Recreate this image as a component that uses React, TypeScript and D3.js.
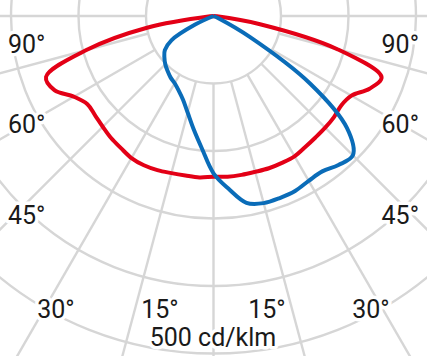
import React from 'react'
import * as d3 from 'd3'

// gamma angles (deg from nadir) and intensities in cd/klm
const angles = [0, 5, 10, 15, 20, 25, 30, 35, 40, 45, 50, 55, 60, 65, 70, 75, 80, 85, 90]
const redLeft = [238, 240, 240, 241, 243, 244, 243, 239, 236, 232, 229, 228, 239, 260, 264, 195, 100, 5, 0]
const redRight = [238, 239, 239, 239, 240, 240, 240, 237, 235, 234, 233, 231, 236, 255, 265, 190, 70, 5, 0]
const blueLeft = [233, 197, 170, 148, 132, 122, 115, 111, 106, 101, 95, 88, 72, 30, 0, 0, 0, 0, 0]
const blueRight = [233, 257, 281, 287, 287, 286, 282, 281, 288, 292, 258, 175, 62, 8, 0, 0, 0, 0, 0]

const rings = [100, 200, 300, 400, 500, 600]
const spokes = d3.range(0, 360, 15)
const sideLabels = ['90°', '60°', '45°']
const bottomLabels = ['30°', '15°', '15°', '30°']
const unitLabel = '500 cd/klm'

const W = 427
const H = 356
const cx = 213.5
const cy = 16
const rad = Math.PI / 180

const r = d3.scaleLinear().domain([0, 100]).range([0, 67.5])

type P = [number, number]

// nadir points down: left side angle = pi + gamma, right side = pi - gamma
const toPoints = (left: number[], right: number[]): P[] => [
    ...angles.map((a, i) => [Math.PI + a * rad, r(left[i])] as P).reverse(),
    ...angles.slice(1).map((a, i) => [Math.PI - a * rad, r(right[i + 1])] as P),
]

const curve = d3
    .lineRadial<P>()
    .angle(d => d[0])
    .radius(d => d[1])
    .curve(d3.curveCatmullRom.alpha(0.5))

const sideY = [53, 133, 224]
const bottomX = [56, 160, 267, 371]

const labelStyle = {
    fontFamily: 'Roboto, sans-serif',
    fontSize: 25,
    fill: '#1a1a1a',
    stroke: '#fff',
    strokeWidth: 7,
    paintOrder: 'stroke',
    strokeLinejoin: 'round',
} as React.CSSProperties

export default function App() {
    const rMin = r(rings[0])
    return (
        <svg
            width={W}
            height={H}
            style={{ position: 'absolute', left: 0, top: 0, background: '#fff' }}
        >
            <g transform={`translate(${cx},${cy})`} fill='none' stroke='#d6d6d6' strokeWidth={2.4}>
                {rings.map(v => (
                    <circle key={v} r={r(v)} />
                ))}
                {spokes.map(a => (
                    <line
                        key={a}
                        x1={rMin * Math.sin(a * rad)}
                        y1={rMin * Math.cos(a * rad)}
                        x2={r(700) * Math.sin(a * rad)}
                        y2={r(700) * Math.cos(a * rad)}
                    />
                ))}
            </g>
            {sideLabels.map((t, i) => (
                <g key={t}>
                    <text x={8} y={sideY[i]} style={labelStyle}>{t}</text>
                    <text x={419} y={sideY[i]} textAnchor='end' style={labelStyle}>{t}</text>
                </g>
            ))}
            {bottomLabels.map((t, i) => (
                <text key={i} x={bottomX[i]} y={318} textAnchor='middle' style={labelStyle}>
                    {t}
                </text>
            ))}
            <text x={213} y={346} textAnchor='middle' style={labelStyle}>{unitLabel}</text>
            <g transform={`translate(${cx},${cy})`} fill='none' strokeWidth={4} strokeLinejoin='round'>
                <path d={curve(toPoints(redLeft, redRight)) || ''} stroke='#e30016' />
                <path d={curve(toPoints(blueLeft, blueRight)) || ''} stroke='#0a6cb8' />
            </g>
        </svg>
    )
}
